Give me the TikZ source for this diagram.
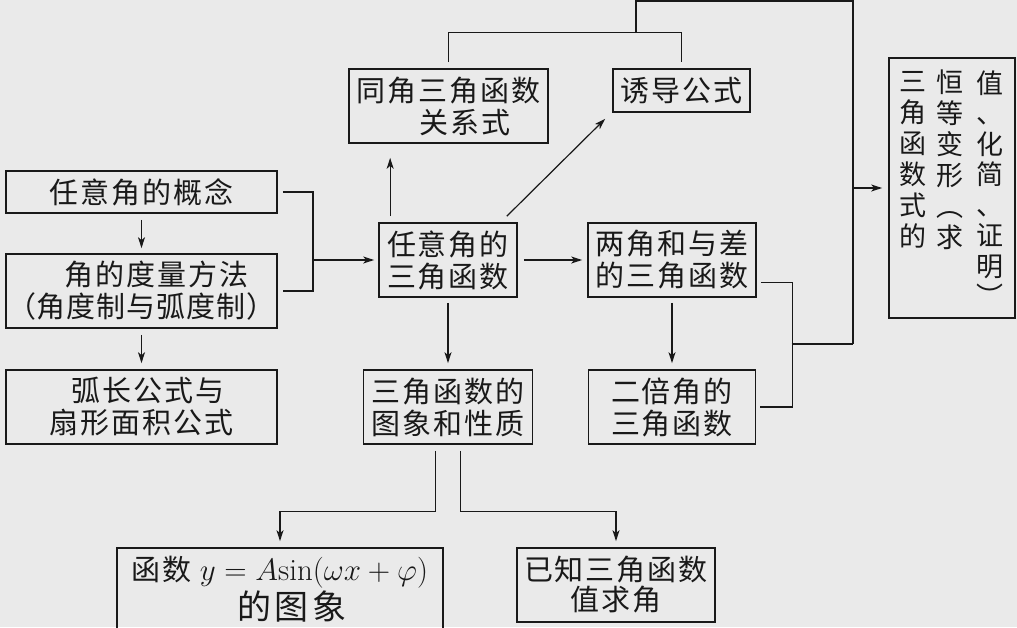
\documentclass[tikz,border=0pt]{standalone}
\usepackage{fix-cm}
\usepackage{fontspec}
\newfontfamily\cjk{Noto Sans CJK SC}
\usetikzlibrary{arrows.meta,calc}
\definecolor{bg}{RGB}{234,234,234}
\definecolor{ink}{RGB}{25,25,25}
\makeatletter
\def\lsp@end{\lsp@end}
\newcommand\lsp[2]{\def\lsp@gap{#1}\lsp@loop#2\lsp@end}
\def\lsp@loop#1{\ifx#1\lsp@end\unskip\else#1\hspace{\lsp@gap}\expandafter\lsp@loop\fi}
\makeatother
\begin{document}
\begin{tikzpicture}[x=1pt,y=-1pt,
  box/.style={draw=ink,line width=1.7pt,inner sep=0pt,align=center,text=ink,
              font=\cjk\fontsize{29}{32}\selectfont},
  vtext/.style={inner sep=0pt,align=center,text=ink,font=\cjk\fontsize{27}{31}\selectfont},
  line/.style={draw=ink,line width=1.2pt},
  arr/.style={line,-{Stealth[length=11pt,width=7pt,inset=3pt]}}]
\useasboundingbox (0,0) rectangle (1017,627);
\clip (0,0) rectangle (1017,627);
\fill[bg] (0,0) rectangle (1017,627);

% nodes
\node[box,minimum width=271pt,minimum height=42pt] (concept) at (141.5,192) {\lsp{2pt}{任意角的概念}};
\node[box,minimum width=271pt,minimum height=74pt] (measure) at (141.5,291)
  {\hspace*{31pt}\lsp{2pt}{角的度量方法}\\\lsp{1pt}{（角度制与弧度制）}};
\node[box,minimum width=271pt,minimum height=74pt] (arc) at (141.5,407)
  {\hspace*{13pt}\lsp{2pt}{弧长公式与}\\\lsp{2pt}{扇形面积公式}};
\node[box,minimum width=199pt,minimum height=74pt] (same) at (448.5,106)
  {\lsp{2pt}{同角三角函数}\\\hspace*{33pt}\lsp{2pt}{关系式}};
\node[box,minimum width=137pt,minimum height=43pt] (induce) at (681.5,90.5) {\lsp{2pt}{诱导公式}};
\node[box,minimum width=138pt,minimum height=74pt] (trig) at (448,260)
  {\lsp{2pt}{任意角的}\\\lsp{2pt}{三角函数}};
\node[box,minimum width=168pt,minimum height=74pt] (sum) at (672,260)
  {\lsp{2pt}{两角和与差}\\\lsp{2pt}{的三角函数}};
\node[box,minimum width=169pt,minimum height=74pt] (graph) at (448,407)
  {\lsp{2pt}{三角函数的}\\\lsp{2pt}{图象和性质}};
\node[box,minimum width=167pt,minimum height=74pt] (double) at (672,407)
  {\lsp{2pt}{二倍角的}\\\lsp{2pt}{三角函数}};
\node[box,minimum width=326pt,minimum height=82pt] (func) at (280,589)
  {\lsp{2pt}{函数}\hspace{8pt}{\fontsize{31}{32}\selectfont$y=A\mathrm{sin}(\omega x+\varphi)$}\\[2pt]
   \hspace*{24pt}{\fontsize{34}{36}\selectfont\lsp{4pt}{的图象}}};
\node[box,minimum width=198pt,minimum height=74pt,font=\cjk\fontsize{29}{30}\selectfont] (known) at (616,585)
  {\lsp{2pt}{已知三角函数}\\\lsp{2pt}{值求角}};
\node[box,minimum width=126pt,minimum height=260pt] (big) at (952,188) {};
\node[vtext] (c1) at (913,159.5) {三\\角\\函\\数\\式\\的};
\node[vtext] (c2) at (950,159.5) {恒\\等\\变\\形\\︵\\求};
\node[vtext,font=\cjk\fontsize{27}{30.5}\selectfont] (c3) at (990,188.5)
  {值\\、\\化\\简\\、\\证\\明\\︶};

% connectors
\draw[arr] ([yshift=-6pt]concept.south) -- ([yshift=5pt]measure.north);
\draw[arr] ([yshift=-6pt]measure.south) -- ([yshift=6pt]arc.north);
\coordinate (jl) at (313,260);
\draw[line] ([xshift=5pt]concept.east) -| (jl) |- ([xshift=5pt]measure.east);
\draw[arr] (jl) -- ([xshift=-4pt]trig.west);
\draw[arr] ([xshift=12pt,yshift=6pt]trig.north west) -- ([xshift=42pt,yshift=-14pt]same.south west);
\draw[arr] ([xshift=-11pt,yshift=6pt]trig.north east) -- ([xshift=-7pt,yshift=-6pt]induce.south west);
\draw[arr] ([xshift=6pt]trig.east) -- ([xshift=-5pt]sum.west);
\draw[arr] ([yshift=-5pt]trig.south) -- ([yshift=6pt]graph.north);
\draw[arr] ([yshift=-5pt]sum.south) -- ([yshift=6pt]double.north);
\draw[line] ([yshift=6pt]same.north) -- ++(0,-30) -| ([yshift=6pt]induce.north);
\coordinate (jt) at (636,33);
\coordinate (jr) at (853,344);
\draw[line] (jt) -- ++(0,-32) -| (jr);
\draw[line] ([xshift=4pt,yshift=15pt]sum.south east) -| ([xshift=36pt]double.east) -- ([xshift=4pt]double.east);
\coordinate (jm) at (791.5,344);
\draw[line] (jm) -- (jr);
\coordinate (ja) at (853,188);
\draw[arr] (ja) -- ([xshift=-6pt]big.west);
\draw[arr] ([xshift=-12.5pt,yshift=-6pt]graph.south) -- ++(0,61) -| ([yshift=6pt]func.north);
\draw[arr] ([xshift=12.5pt,yshift=-6pt]graph.south) -- ++(0,61) -| ([yshift=6pt]known.north);
\end{tikzpicture}
\end{document}
